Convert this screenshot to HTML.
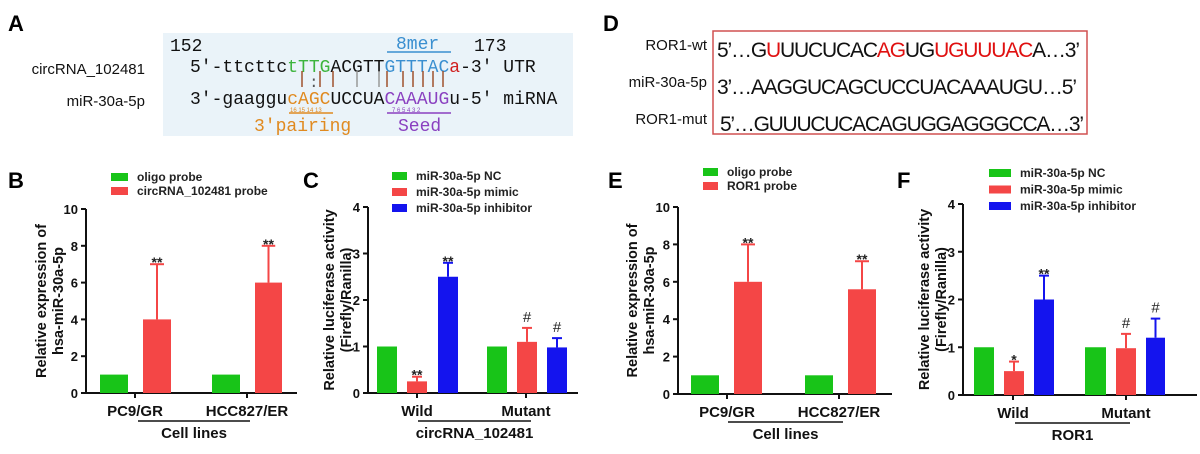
<!DOCTYPE html>
<html><head><meta charset="utf-8"><style>
body{margin:0;background:#fff;width:1200px;height:454px;overflow:hidden}
svg{display:block}
.b{font-family:"Liberation Sans",Arial,sans-serif;font-weight:bold}
.m{font-family:"Liberation Mono","DejaVu Sans Mono",monospace}
.s{font-family:"Liberation Sans",Arial,sans-serif}
</style></head><body>
<svg id="g" width="1200" height="454" xmlns="http://www.w3.org/2000/svg">
<text x="8" y="31" class="b" font-size="22">A</text>
<text x="603" y="31" class="b" font-size="22">D</text>
<rect x="163" y="33" width="410" height="103" fill="#eaf3f9"/>
<text x="145" y="74" class="s" font-size="15" text-anchor="end" fill="#111">circRNA_102481</text>
<text x="145" y="106" class="s" font-size="15" text-anchor="end" fill="#111">miR-30a-5p</text>
<g class="m" font-size="18" fill="#111">
<text x="170" y="51">152</text><text x="474" y="51">173</text>
<text x="396" y="49" fill="#3a8fd0">8mer</text>
<text x="190" y="72" xml:space="preserve">5'-ttcttc<tspan fill="#3cb43c">tTTG</tspan>ACGTT<tspan fill="#3a8fd0">GTTTAC</tspan><tspan fill="#d02020">a</tspan>-3' UTR</text>
<text x="190" y="104" xml:space="preserve">3'-gaaggu<tspan fill="#e08a20">cAGC</tspan>UCCUA<tspan fill="#8a40c0">CAAAUG</tspan>u-5' miRNA</text>
<text x="254" y="131" fill="#e08a20">3'pairing</text>
<text x="398" y="131" fill="#8a40c0">Seed</text>
</g>
<line x1="387" y1="52" x2="451" y2="52" stroke="#3a8fd0" stroke-width="1.5"/>
<line x1="387" y1="113" x2="451" y2="113" stroke="#8a40c0" stroke-width="1.5"/>
<line x1="289" y1="113" x2="333" y2="113" stroke="#e08a20" stroke-width="1.5"/>
<text x="290" y="112" class="s" font-size="6" fill="#e08a20">16 15 14 13</text>
<text x="392" y="112" class="s" font-size="6" fill="#8a40c0">7  6  5  4  3  2</text>
<text x="309" y="87" class="m" font-size="16" fill="#555">:</text>
<rect x="713" y="31" width="374" height="103" fill="none" stroke="#d05050" stroke-width="1.5"/>
<g class="s" font-size="15" fill="#111" text-anchor="end">
<text x="707" y="50">ROR1-wt</text><text x="707" y="87">miR-30a-5p</text><text x="707" y="124">ROR1-mut</text></g>
<g class="s" font-size="21" fill="#111">
<text x="717" y="57" textLength="363">5’…G<tspan fill="#e01010">U</tspan>UUCUCAC<tspan fill="#e01010">AG</tspan>UG<tspan fill="#e01010">UGUUUAC</tspan>A…3’</text>
<text x="717" y="94" textLength="360">3’…AAGGUCAGCUCCUACAAAUGU…5’</text>
<text x="720" y="131" textLength="364">5’…GUUUCUCACAGUGGAGGGCCA…3’</text>
</g>
</svg>
<script>
const G=document.getElementById('g');const NS='http://www.w3.org/2000/svg';
function el(t,a,txt){const e=document.createElementNS(NS,t);for(const k in a)e.setAttribute(k,a[k]);if(txt!=null)e.textContent=txt;G.appendChild(e);return e;}
[[302,1],[320,1],[333,1],[357,0],[379,0],[387,1],[403,1],[413,1],[423,1],[433,1],[443,1]].forEach(p=>el('line',{x1:p[0],x2:p[0],y1:71,y2:87,stroke:p[1]?'#a0522d':'#999','stroke-width':1.5}));
const C={g:'#18c418',r:'#f44646',b:'#1414ee'};
function chart(o){
 el('text',{x:o.lx,y:o.ly,class:'b','font-size':22},o.L);
 o.leg.forEach((l,i)=>{el('rect',{x:o.legx,y:o.legy+i*o.legdy,width:o.legw,height:8,fill:C[l[0]]});el('text',{x:o.legx+o.legw+9,y:o.legy+i*o.legdy+8,class:'b','font-size':12,fill:'#222'},l[1]);});
 const sc=(o.y0-o.ytop)/o.max;const Y=v=>o.y0-v*sc;
 el('line',{x1:o.ax,x2:o.ax,y1:o.ytop,y2:o.y0+1,stroke:'#111','stroke-width':2});
 el('line',{x1:o.ax-1,x2:o.aend,y1:o.y0,y2:o.y0,stroke:'#111','stroke-width':2});
 for(let v=0;v<=o.max;v+=o.step){el('line',{x1:o.ax-5,x2:o.ax,y1:Y(v),y2:Y(v),stroke:'#111','stroke-width':2});el('text',{x:o.ax-8,y:Y(v)+5,class:'b','font-size':13,'text-anchor':'end',fill:'#111'},v);}
 o.bars.forEach(b=>{const [x1,x2,c,v,e,m]=b;el('rect',{x:x1,y:Y(v),width:x2-x1,height:o.y0-Y(v),fill:C[c]});const cx=(x1+x2)/2;
  if(e){el('line',{x1:cx,x2:cx,y1:Y(v),y2:Y(v+e),stroke:C[c],'stroke-width':2});el('line',{x1:cx-(x2-x1)/4,x2:cx+(x2-x1)/4,y1:Y(v+e),y2:Y(v+e),stroke:C[c],'stroke-width':2});}
  if(m)el('text',{x:cx,y:Y(v+(e||0))-(m=='#'?6:-3),class:m=='#'?'s':'b','font-size':m=='#'?15:14,'text-anchor':'middle',fill:'#222'},m);});
 o.xl.forEach(t=>{el('line',{x1:t[0],x2:t[0],y1:o.y0,y2:o.y0+5,stroke:'#111','stroke-width':2});el('text',{x:t[0],y:o.y0+23,class:'b','font-size':15,'text-anchor':'middle',fill:'#111'},t[1]);});
 el('line',{x1:o.ul[0],x2:o.ul[1],y1:o.y0+28,y2:o.y0+28,stroke:'#111','stroke-width':1.5});
 el('text',{x:(o.ul[0]+o.ul[1])/2,y:o.y0+45,class:'b','font-size':15,'text-anchor':'middle',fill:'#111'},o.group);
 const yc=(o.y0+o.ytop)/2;
 o.yt.forEach((t,i)=>el('text',{x:0,y:0,class:'b','font-size':14.5,'text-anchor':'middle',fill:'#111',transform:`translate(${o.ytx+i*17},${yc}) rotate(-90)`},t));
}
chart({L:'B',lx:8,ly:188,leg:[['g','oligo probe'],['r','circRNA_102481 probe']],legx:111,legy:173,legdy:14,legw:17,
 ax:86,y0:393,ytop:209,max:10,step:2,aend:297,
 bars:[[100,128,'g',1],[143,171,'r',4,3,'**'],[212,240,'g',1],[255,282,'r',6,2,'**']],
 xl:[[135,'PC9/GR'],[247,'HCC827/ER']],ul:[138,250],group:'Cell lines',yt:['Relative expression of','hsa-miR-30a-5p'],ytx:46});
chart({L:'C',lx:303,ly:188,leg:[['g','miR-30a-5p NC'],['r','miR-30a-5p mimic'],['b','miR-30a-5p inhibitor']],legx:392,legy:172,legdy:16,legw:15,
 ax:368,y0:393,ytop:207,max:4,step:1,aend:578,
 bars:[[377,397,'g',1],[407,427,'r',0.25,0.1,'**'],[438,458,'b',2.5,0.3,'**'],[487,507,'g',1],[517,537,'r',1.1,0.3,'#'],[547,567,'b',0.98,0.2,'#']],
 xl:[[417,'Wild'],[526,'Mutant']],ul:[418,531],group:'circRNA_102481',yt:['Relative luciferase activity','(Firefly/Ranilla)'],ytx:334});
chart({L:'E',lx:608,ly:188,leg:[['g','oligo probe'],['r','ROR1 probe']],legx:703,legy:168,legdy:14,legw:15,
 ax:678,y0:394,ytop:207,max:10,step:2,aend:892,
 bars:[[691,719,'g',1],[734,762,'r',6,2,'**'],[805,833,'g',1],[848,876,'r',5.6,1.5,'**']],
 xl:[[727,'PC9/GR'],[839,'HCC827/ER']],ul:[728,843],group:'Cell lines',yt:['Relative expression of','hsa-miR-30a-5p'],ytx:637});
chart({L:'F',lx:897,ly:188,leg:[['g','miR-30a-5p NC'],['r','miR-30a-5p mimic'],['b','miR-30a-5p inhibitor']],legx:989,legy:169,legdy:16.5,legw:22,
 ax:963,y0:395,ytop:204,max:4,step:1,aend:1197,
 bars:[[974,994,'g',1],[1004,1024,'r',0.5,0.2,'*'],[1034,1054,'b',2,0.5,'**'],[1085,1106,'g',1],[1116,1136,'r',0.98,0.3,'#'],[1146,1165,'b',1.2,0.4,'#']],
 xl:[[1013,'Wild'],[1126,'Mutant']],ul:[1015,1130],group:'ROR1',yt:['Relative luciferase activity','(Firefly/Ranilla)'],ytx:929});
</script>
</body></html>
